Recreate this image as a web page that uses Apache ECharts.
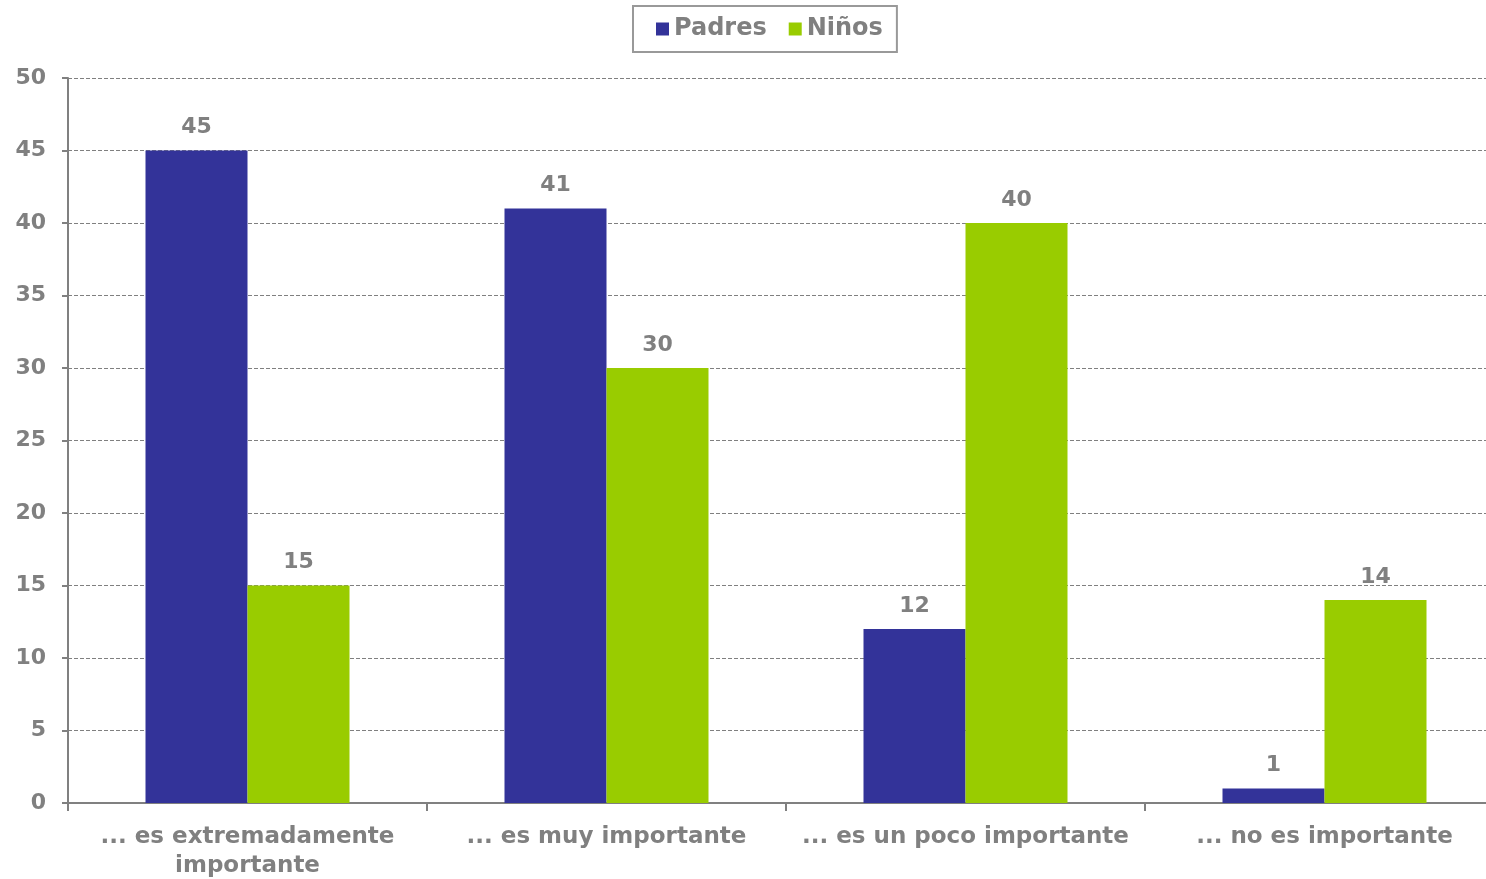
<!DOCTYPE html>
<html><head><meta charset="utf-8">
<script src="https://cdn.jsdelivr.net/npm/echarts@6/dist/echarts.min.js"></script>
<style>html,body{margin:0;padding:0;background:#fff}#c{width:1486px;height:879px}</style>
</head><body><div id="c"></div>
<script>
const categories = ['... es extremadamente\nimportante', '... es muy importante', '... es un poco importante', '... no es importante'];
const padres = [45, 41, 12, 1];
const ninos = [15, 30, 40, 14];
const yTicks = [0, 50, 5];

const gray = '#808080';
const font = 'DejaVu Sans';
const chart = echarts.init(document.getElementById('c'));
chart.setOption({
  animation: false,
  textStyle: { fontFamily: font },
  legend: {
    top: 6, left: 633,
    padding: [11, 14, 11, 23],
    itemWidth: 13, itemHeight: 13, itemGap: 22,
    borderColor: '#999', borderWidth: 2,
    icon: 'rect',
    textStyle: { color: gray, fontSize: 24, fontWeight: 'bold', fontFamily: font },
    data: ['Padres', 'Niños']
  },
  grid: { left: 68, width: 1436, top: 78, height: 725, containLabel: false, outerBoundsMode: 'none' },
  xAxis: {
    type: 'category', data: categories,
    axisLine: { lineStyle: { color: gray, width: 2 } },
    axisTick: { show: true, length: 8, lineStyle: { color: gray, width: 2 } },
    axisLabel: { color: gray, fontSize: 23, fontWeight: 'bold', fontFamily: font, margin: 20, lineHeight: 29, interval: 0 }
  },
  yAxis: {
    type: 'value', min: yTicks[0], max: yTicks[1], interval: yTicks[2],
    axisLine: { show: true, lineStyle: { color: gray, width: 2 } },
    axisTick: { show: true, length: 6, lineStyle: { color: gray, width: 2 } },
    axisLabel: { color: gray, fontSize: 22, fontWeight: 'bold', fontFamily: font, margin: 22 },
    splitLine: { lineStyle: { color: gray, type: [4, 2], width: 1 } }
  },
  series: [
    { name: 'Padres', type: 'bar', data: padres, barWidth: 102, barGap: '0%',
      itemStyle: { color: '#333399' },
      label: { show: true, position: 'top', distance: 12, color: gray, fontSize: 22, fontWeight: 'bold', fontFamily: font } },
    { name: 'Niños', type: 'bar', data: ninos, barWidth: 102,
      itemStyle: { color: '#99CC00' },
      label: { show: true, position: 'top', distance: 12, color: gray, fontSize: 22, fontWeight: 'bold', fontFamily: font } }
  ]
});
</script></body></html>
